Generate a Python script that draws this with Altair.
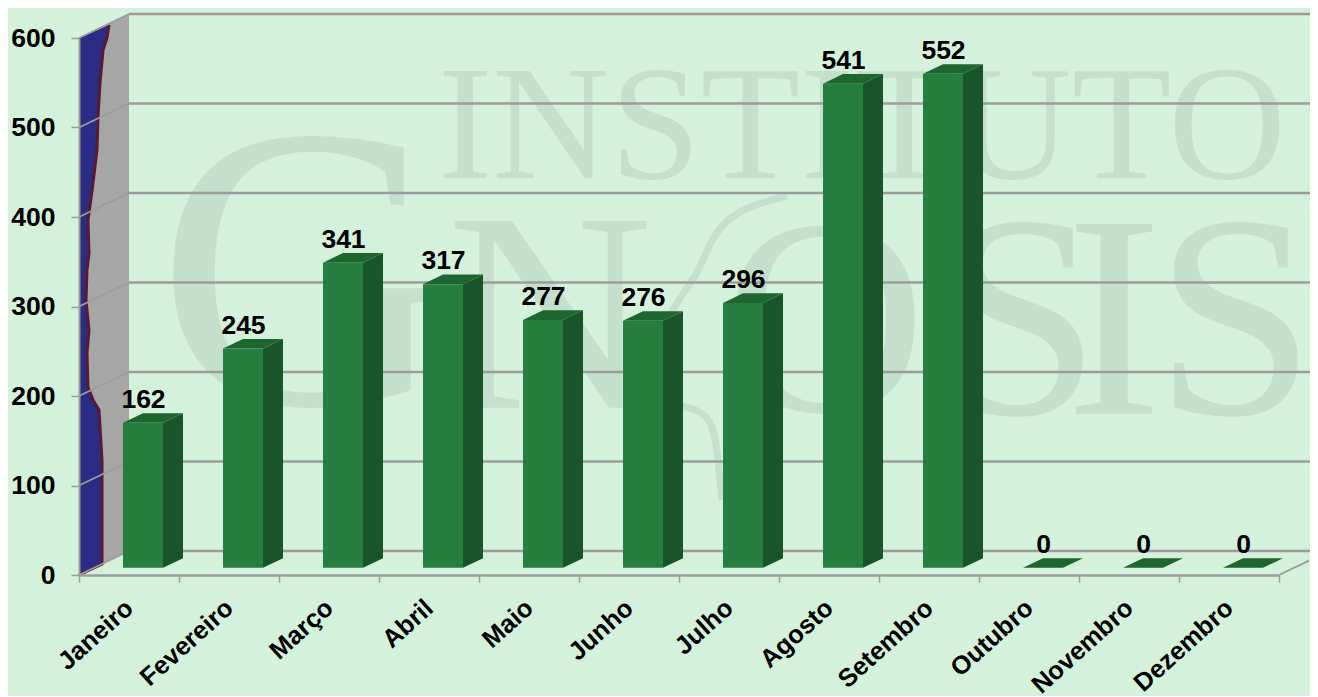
import json
import altair as alt
import pandas as pd

months = ["Janeiro", "Fevereiro", "Março", "Abril", "Maio", "Junho", "Julho",
          "Agosto", "Setembro", "Outubro", "Novembro", "Dezembro"]
values = [162, 245, 341, 317, 277, 276, 296, 541, 552, 0, 0, 0]
y_ticks = [0, 100, 200, 300, 400, 500, 600]

# wall picture outline (category units, value units)
edge_v = [0, 12.3, 128.5, 184.4, 195.5, 210, 248, 273.7, 307.3, 340.8, 359.8, 396.6,
          404.5, 438, 474.9, 511.7, 549.7, 586.6, 600, 614.5]
edge_r = [0, .23, .23, .20, .14, .09, .08, .10, .07, .08, .10, .09,
          .10, .14, .18, .19, .21, .24, .28, .30]
edge_l = [0] * 19 + [.30]

# watermark
wm_text = ["INSTITUTO", "G", "N", "O", "S", "I", "S"]
wm_x = [7.83, 2.24, 4.71, 7.46, 9.41, 10.35, 11.56]
wm_v = [443.6, 191, 187, 183, 180, 180, 180]
wm_size = [163, 405, 285, 280, 290, 290, 290]
swoosh_x = [7.08, 6.54, 6.31, 6.21, 6.04, 5.85]
swoosh_v = [424, 407, 374, 341, 315, 280]
tail_x = [5.88, 6.31, 6.38, 6.43]
tail_v = [192, 184, 143, 84]

BG = "#D4F1DC"
GRID = "#9C9C9C"
WM = "#C4DFCC"
DX, DV = 0.5, 26.8        # depth of the chart box
BX, BV, BW = 0.44, 8, 0.40   # bar offset and width
SX, SV = 0.20, 10.8       # depth of a bar

xs = alt.Scale(domain=[0, 12], nice=False, zero=False)
ys = alt.Scale(domain=[0, 600], nice=False, zero=False)

month_js = json.dumps(months, ensure_ascii=False)
x_axis = alt.Axis(
    title=None, values=[i / 2 for i in range(25)], grid=False,
    labelExpr=f"datum.value % 1 ? {month_js}[floor(datum.value)] : ''",
    labelAngle=-42, labelAlign="right", labelBaseline="middle", labelFont="Liberation Sans",
    labelFontWeight="bold", labelFontSize=25.5, labelColor="#000000", labelPadding=22,
    labelOverlap=False, labelBound=False, labelFlush=False,
    domainColor=GRID, domainWidth=2.5, tickColor=GRID, tickWidth=1.5, tickSize=7,
    tickOpacity={"condition": {"test": "datum.value % 1 != 0", "value": 0}, "value": 1},
    zindex=1,
)
y_axis = alt.Axis(
    title=None, values=y_ticks, grid=False, labelFont="Liberation Sans", labelFontWeight="bold",
    labelFontSize=26.5, labelColor="#000000", labelPadding=16, domainColor=GRID, domainWidth=2,
    tickColor=GRID, tickWidth=1.5, tickSize=8, zindex=1,
)


def X(f="x"):
    return alt.X(f"{f}:Q", scale=xs, axis=x_axis)


def Y(f="y"):
    return alt.Y(f"{f}:Q", scale=ys, axis=y_axis)


wm = pd.DataFrame({"t": wm_text, "x": wm_x, "y": wm_v, "s": wm_size})
base_text = alt.Chart(wm).mark_text(
    font="Liberation Serif", color=WM, align="center", baseline="alphabetic"
).encode(
    x=X(), y=Y(), text="t:N",
    size=alt.Size("s:Q", scale=None, legend=None),
)
curves = pd.DataFrame(
    [{"k": "a", "o": j, "x": a, "y": b} for j, (a, b) in enumerate(zip(swoosh_x, swoosh_v))]
    + [{"k": "b", "o": j, "x": a, "y": b} for j, (a, b) in enumerate(zip(tail_x, tail_v))]
)
wm_curves = alt.Chart(curves).mark_line(color=WM, strokeWidth=7, interpolate="basis").encode(
    x=X(), y=Y(), detail="k:N", order="o:Q")

# back wall grid
grid = pd.DataFrame({"x": [DX] * len(y_ticks), "x2": [12.31] * len(y_ticks),
                     "y": [v + DV for v in y_ticks]})
grid_lines = alt.Chart(grid).mark_rule(color=GRID, strokeWidth=2.5).encode(
    x=X(), x2="x2:Q", y=Y())

# side wall
wall = pd.DataFrame({"x": [0, DX], "y": [0, DV], "y2": [600, 600 + DV]})
wall_area = alt.Chart(wall).mark_area(color="#A6A6A6").encode(x=X(), y=Y(), y2="y2:Q")

edge = pd.DataFrame({"v": edge_v, "l": edge_l, "r": edge_r, "o": range(len(edge_v))})
blue = alt.Chart(edge).mark_area(color="#2A2C85", orient="horizontal").encode(
    y=Y("v"), x=X("l"), x2="r:Q")
red = alt.Chart(edge).mark_line(color="#5A1A35", strokeWidth=3).encode(
    y=Y("v"), x=X("r"), order="o:Q")

# lines across the wall and the floor edge
sl = []
for v in y_ticks:
    sl += [{"k": f"w{v}", "x": 0, "y": v}, {"k": f"w{v}", "x": DX, "y": v + DV}]
sl += [{"k": "f", "x": 12, "y": 0}, {"k": "f", "x": 12.3, "y": DV * 0.6}]
slants = alt.Chart(pd.DataFrame(sl)).mark_line(color=GRID, strokeWidth=1.8).encode(
    x=X(), y=Y(), detail="k:N")

# bars
fronts, sides, tops = [], [], []
for i, v in enumerate(values):
    x0, x1, t = i + BX, i + BX + BW, v + BV
    fronts.append({"x": x0, "x2": x1, "y": BV, "y2": t, "v": v})
    sides += [{"i": i, "x": x1, "y": BV, "y2": t}, {"i": i, "x": x1 + SX, "y": BV + SV, "y2": t + SV}]
    tops += [{"i": i, "x": x0, "x2": x1, "y": t}, {"i": i, "x": x0 + SX, "x2": x1 + SX, "y": t + SV}]
fronts = pd.DataFrame(fronts)
fronts["xc"] = (fronts.x + fronts.x2) / 2 + 0.005
fronts["yl"] = fronts.y2 + 16.8

side_faces = alt.Chart(pd.DataFrame(sides)).mark_area(color="#1A5429").encode(
    x=X(), y=Y(), y2="y2:Q", detail="i:N")
top_faces = alt.Chart(pd.DataFrame(tops)).mark_area(color="#1E662F", orient="horizontal").encode(
    y=Y(), x=X(), x2="x2:Q", detail="i:N")
front_faces = alt.Chart(fronts[fronts.v > 0]).mark_rect(color="#267F3F").encode(
    x=X(), x2="x2:Q", y=Y(), y2="y2:Q")
labels = alt.Chart(fronts).mark_text(
    font="Liberation Sans", fontWeight="bold", fontSize=26.5, color="#000000",
    align="center", baseline="alphabetic"
).encode(x=X("xc"), y=Y("yl"), text="v:Q")

chart = alt.layer(
    base_text, wm_curves, grid_lines, wall_area, blue, red, slants,
    side_faces, top_faces, front_faces, labels,
).properties(
    width=1200, height=537, background=BG,
    padding={"left": 71, "top": 30, "right": 31, "bottom": 121},
    autosize=alt.AutoSizeParams(type="none"),
).configure_view(stroke=None)

chart.save("out.html", embed_options={"renderer": "svg", "actions": False})
